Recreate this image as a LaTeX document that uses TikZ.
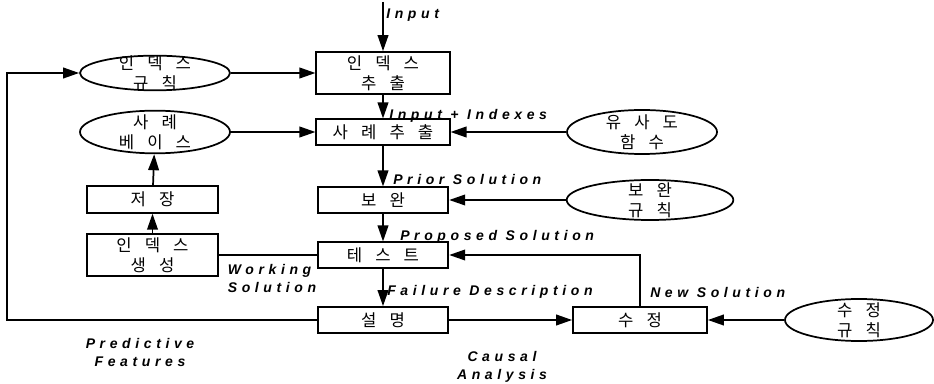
\documentclass[tikz,border=0pt]{standalone}
\usepackage{fontspec}
\setmainfont{Liberation Sans}
\newfontfamily\krfont[WordSpace=3.5]{Noto Sans CJK KR}
\newfontfamily\flowfont[LetterSpace=33]{Liberation Sans}
\usetikzlibrary{shapes.geometric,arrows.meta}
\tikzset{
  stage/.style={draw, line width=1.3pt, font=\krfont\fontsize{12.5}{15}\selectfont, align=center, inner sep=0pt},
  rule/.style={ellipse, draw, line width=1.3pt, font=\krfont\fontsize{12.5}{15}\selectfont, align=center, inner xsep=0pt, inner ysep=-5pt, minimum width=112.5pt},
  flow/.style={-{Triangle[length=12pt,width=8pt]}, line width=1.3pt},
  note/.style={font=\flowfont\bfseries\itshape\fontsize{10.5}{13.5}\selectfont, inner sep=0pt}
}
\begin{document}
\begin{tikzpicture}[x=0.75pt, y=-0.75pt]
  \useasboundingbox (0,0) rectangle (934,384);
  \node[stage, minimum width=100pt, minimum height=31.5pt] (inx) at (383,73) {인 덱 스\\추 출};
  \node[stage, minimum width=100pt, minimum height=19pt] (ret) at (383,132) {사 례 추 출};
  \node[stage, minimum width=98pt, minimum height=19pt] (adp) at (383,200) {보 완};
  \node[stage, minimum width=98pt, minimum height=19pt] (tst) at (383,255) {테 스 트};
  \node[stage, minimum width=98pt, minimum height=19.5pt] (exp) at (383,320) {설 명};
  \node[stage, minimum width=100.5pt, minimum height=19.5pt] (rep) at (640,320) {수 정};
  \node[stage, minimum width=98pt, minimum height=20pt] (sto) at (152.5,199.5) {저 장};
  \node[stage, minimum width=98pt, minimum height=31pt] (gen) at (152.5,255) {인 덱 스\\생 성};
  \node[rule, minimum height=26pt] (irule) at (155,73) {인 덱 스\\규 칙};
  \node[rule, minimum height=32pt] (cbase) at (155,132) {사 례\\베 이 스};
  \node[rule, minimum height=33pt] (sim) at (642,132) {유 사 도\\함 수};
  \node[rule, minimum width=125pt, minimum height=30pt] (arule) at (650,200) {보 완\\규 칙};
  \node[rule, minimum width=111pt, minimum height=31.5pt] (rrule) at (859,320) {수 정\\규 칙};
  \coordinate (in) at (383,2);
  \coordinate (edge) at (7,0);
  \draw[flow] (in) -- (inx);
  \draw[flow] (inx) -- (ret);
  \draw[flow] (ret) -- (adp);
  \draw[flow] (adp) -- (tst);
  \draw[flow] (tst) -- (exp);
  \draw[flow] (irule) -- (inx);
  \draw[flow] (cbase) -- (ret);
  \draw[flow] (sim) -- (ret);
  \draw[flow] (arule) -- (adp);
  \draw[flow] (rrule) -- (rep);
  \draw[flow] (exp) -- (rep);
  \draw[flow] (gen) -- (sto);
  \draw[flow] (sto) -- (cbase);
  \draw[line width=1.3pt] (gen) -- (tst);
  \draw[flow] (rep.north) |- (tst.east);
  \draw[flow] (exp.west) -- (exp.west -| edge) |- (irule.west);
  \node[note, anchor=base west] (lin) at (386,19) {Input};
  \node[note, anchor=base west] (lidx) at (389,120) {Input + Indexes};
  \node[note, anchor=base west] (lprior) at (393,185) {Prior Solution};
  \node[note, anchor=base west] (lprop) at (400,241) {Proposed Solution};
  \node[note, anchor=base west] (lfail) at (387,296) {Failure Description};
  \node[note, anchor=base west] (lnew) at (650,298) {New Solution};
  \node[note, align=left] (lwork) at (272,278) {Working\\Solution};
  \node[note, align=center] (lpred) at (140,352) {Predictive\\Features};
  \node[note, align=center] (lcaus) at (502,367) {Causal\\Analysis};
\end{tikzpicture}
\end{document}
